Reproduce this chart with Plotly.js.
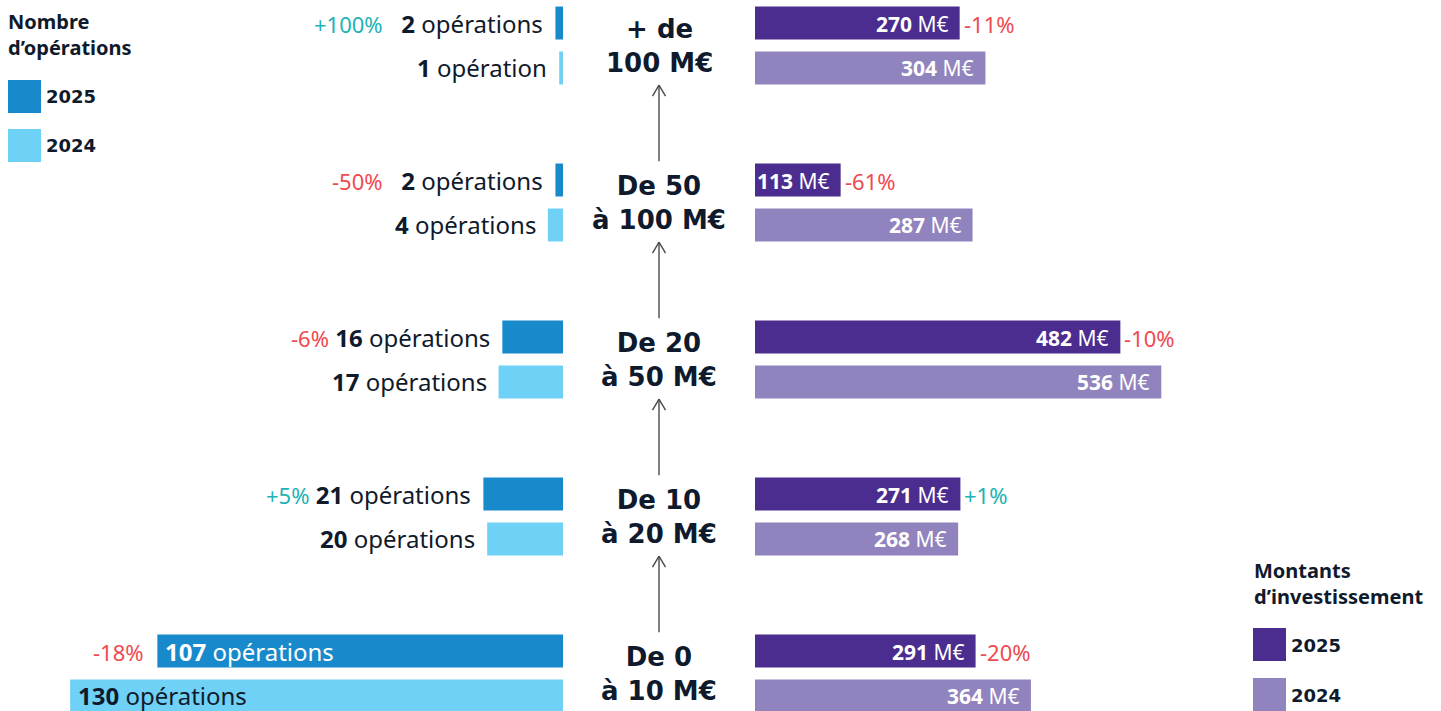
<!DOCTYPE html>
<html>
<head>
<meta charset="utf-8">
<script src="https://cdn.plot.ly/plotly-3.0.1.min.js"></script>
<style>
  html, body { margin: 0; padding: 0; background: #ffffff; }
  #chart { width: 1441px; height: 711px; }
</style>
</head>
<body>
<div id="chart"></div>
<script>
// ---- Data ----
const bands = ["+ de<br>100 M€", "De 50<br>à 100 M€", "De 20<br>à 50 M€", "De 10<br>à 20 M€", "De 0<br>à 10 M€"];
const ops2025 = [2, 2, 16, 21, 107];
const ops2024 = [1, 4, 17, 20, 130];
const opsChange = ["+100%", "-50%", "-6%", "+5%", "-18%"];
const amt2025 = [270, 113, 482, 271, 291];
const amt2024 = [304, 287, 536, 268, 364];
const amtChange = ["-11%", "-61%", "-10%", "+1%", "-20%"];
const years = ["2025", "2024"];

// ---- Styles ----
const W = 1441, H = 711;
const C_OPS25 = "#188ACB", C_OPS24 = "#6FD1F6";
const C_AMT25 = "#4B2D8F", C_AMT24 = "#9183BE";
const C_TEXT = "#0F1A2C", C_POS = "#20B2B5", C_NEG = "#EE4A50";
const F_REG = "Noto Sans, sans-serif";
const F_BOLD = "DejaVu Sans, sans-serif";
const pctGapPx = [18, 18, 5, 4, 12];
const insideThreshold = 60;
const rowShift = 22;

const pctColor = s => s.trim().startsWith("+") ? C_POS : C_NEG;
const nb = px => "\u00A0".repeat(Math.max(1, Math.round(px / 6.2)));
const opsLabel = n => `<b>${n}</b> ${n === 1 ? "opération" : "opérations"}`;

const traces = [
  {type: "bar", orientation: "h", x: ops2025, y: bands, xaxis: "x", yaxis: "y",
   marker: {color: C_OPS25}, name: "ops 2025", hoverinfo: "skip"},
  {type: "bar", orientation: "h", x: ops2024, y: bands, xaxis: "x", yaxis: "y",
   marker: {color: C_OPS24}, name: "ops 2024", hoverinfo: "skip"},
  {type: "bar", orientation: "h", x: amt2025, y: bands, xaxis: "x2", yaxis: "y",
   marker: {color: C_AMT25}, name: "amt 2025", hoverinfo: "skip"},
  {type: "bar", orientation: "h", x: amt2024, y: bands, xaxis: "x2", yaxis: "y",
   marker: {color: C_AMT24}, name: "amt 2024", hoverinfo: "skip"}
];

const annotations = [];
const shapes = [];

// Left side labels (number of operations)
[ops2025, ops2024].forEach((arr, k) => {
  arr.forEach((v, i) => {
    const inside = v > insideThreshold;
    let text = opsLabel(v);
    if (k === 0 && !inside) {
      text = `<span style="color:${pctColor(opsChange[i])};font-size:22px">${opsChange[i]}</span>${nb(pctGapPx[i])}` + text;
    }
    annotations.push({
      xref: "x", yref: "y", x: v, y: bands[i], yshift: k === 0 ? rowShift : -rowShift,
      xanchor: inside ? "left" : "right", xshift: inside ? 7 : -11, borderpad: 0,
      text: text, showarrow: false,
      font: {family: F_REG, size: 24, color: inside && k === 0 ? "#ffffff" : C_TEXT}
    });
    if (k === 0 && inside) {
      annotations.push({
        xref: "x", yref: "y", x: v, y: bands[i], yshift: rowShift, borderpad: 0,
        xanchor: "right", xshift: -12, text: opsChange[i], showarrow: false,
        font: {family: F_REG, size: 22, color: pctColor(opsChange[i])}
      });
    }
  });
});

// Right side labels (amounts)
[amt2025, amt2024].forEach((arr, k) => {
  arr.forEach((v, i) => {
    annotations.push({
      xref: "x2", yref: "y", x: v, y: bands[i], yshift: k === 0 ? rowShift : -rowShift,
      xanchor: "right", xshift: -10, borderpad: 0, text: `<b>${v}</b> M€`, showarrow: false,
      font: {family: F_REG, size: 21, color: "#ffffff"}
    });
    if (k === 0) {
      annotations.push({
        xref: "x2", yref: "y", x: v, y: bands[i], yshift: rowShift, borderpad: 0,
        xanchor: "left", xshift: 3, text: amtChange[i], showarrow: false,
        font: {family: F_REG, size: 22, color: pctColor(amtChange[i])}
      });
    }
  });
});

// Center band labels
const cx = 659 / W;
bands.forEach((b, i) => {
  annotations.push({
    xref: "paper", yref: "y", x: cx, y: b, xanchor: "center", yanchor: "middle",
    text: `<b>${b}</b>`, showarrow: false, borderpad: 0,
    font: {family: F_BOLD, size: 26, color: C_TEXT}
  });
});

// Arrows between band labels (pointing up)
const arrowLine = {color: "#4a4a4a", width: 1.4};
for (let i = 0; i < bands.length - 1; i++) {
  const tip = i + 0.252, base = i + 1 - 0.262;
  const dx = 6.5 / W, dy = 11 / 157;
  shapes.push({type: "line", xref: "paper", yref: "y", x0: cx, x1: cx, y0: base, y1: tip, line: arrowLine});
  shapes.push({type: "line", xref: "paper", yref: "y", x0: cx - dx, x1: cx, y0: tip + dy, y1: tip, line: arrowLine});
  shapes.push({type: "line", xref: "paper", yref: "y", x0: cx + dx, x1: cx, y0: tip + dy, y1: tip, line: arrowLine});
}

// Legends (custom)
const px2x = p => p / W, px2y = p => 1 - p / H;
function legendSquare(x0, y0, color) {
  shapes.push({type: "rect", xref: "paper", yref: "paper",
    x0: px2x(x0), x1: px2x(x0 + 33), y0: px2y(y0 + 33), y1: px2y(y0),
    fillcolor: color, line: {width: 0}});
}
function legendText(x, y, text, size, family) {
  annotations.push({xref: "paper", yref: "paper", x: px2x(x), y: px2y(y), borderpad: 0,
    xanchor: "left", yanchor: "middle", align: "left", text: text, showarrow: false,
    font: {family: family, size: size, color: C_TEXT}});
}
legendText(7, 35, "<b>Nombre<br>d’opérations</b>", 20, F_REG);
legendSquare(8, 80, C_OPS25); legendText(45, 97, `<b>${years[0]}</b>`, 18, F_BOLD);
legendSquare(8, 129, C_OPS24); legendText(45, 146, `<b>${years[1]}</b>`, 18, F_BOLD);
legendText(1253, 583, "<b>Montants<br>d’investissement</b>", 20, F_REG);
legendSquare(1253, 628, C_AMT25); legendText(1290, 645, `<b>${years[0]}</b>`, 18, F_BOLD);
legendSquare(1253, 678, C_AMT24); legendText(1290, 695, `<b>${years[1]}</b>`, 18, F_BOLD);

const layout = {
  width: W, height: H,
  margin: {l: 0, r: 0, t: 0, b: 0, pad: 0},
  paper_bgcolor: "#ffffff", plot_bgcolor: "rgba(0,0,0,0)",
  showlegend: false,
  barmode: "group", bargap: 0.427, bargroupgap: 0.267,
  xaxis: {domain: [0, 563 / W], range: [148.5, 0], visible: false, fixedrange: true},
  xaxis2: {domain: [755 / W, 1], range: [0, 905], visible: false, anchor: "y", fixedrange: true},
  yaxis: {type: "category", categoryorder: "array", categoryarray: bands,
          range: [(H - 45.5) / 157, -45.5 / 157], visible: false, fixedrange: true},
  annotations: annotations,
  shapes: shapes
};

Plotly.newPlot("chart", traces, layout, {displayModeBar: false, staticPlot: true});
</script>
</body>
</html>
